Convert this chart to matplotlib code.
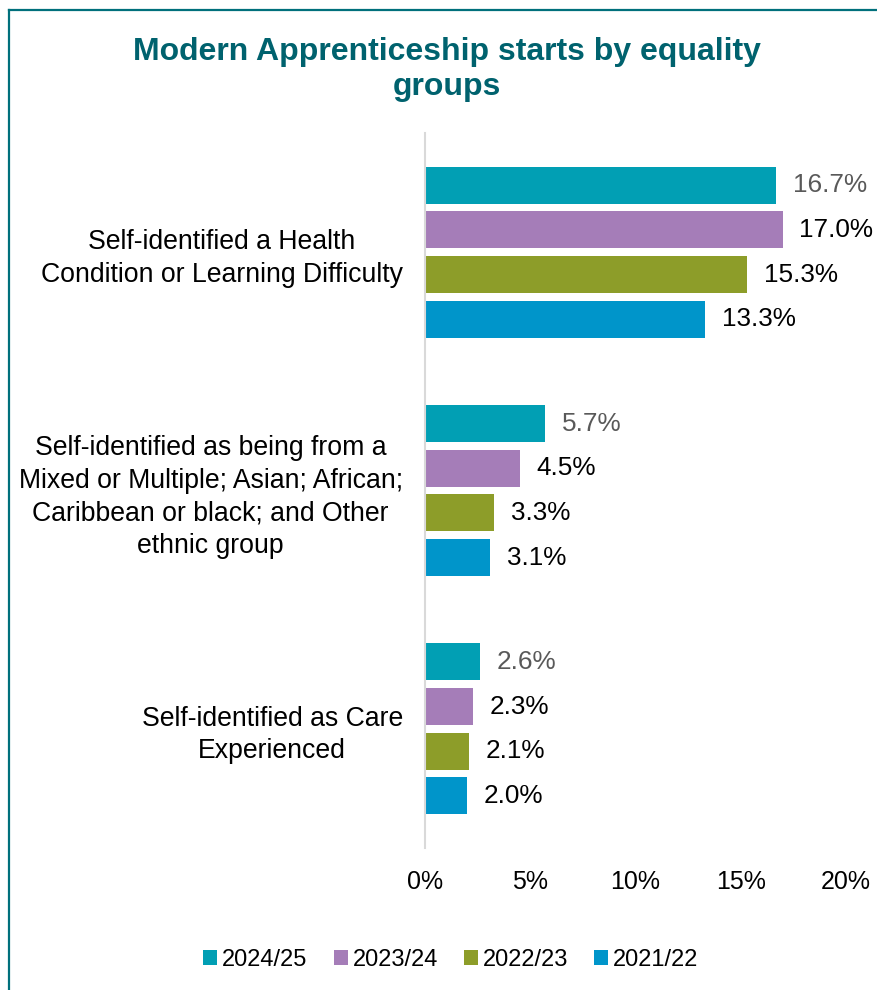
import matplotlib.pyplot as plt
from matplotlib.lines import Line2D
import numpy as np

plt.rcParams['font.family'] = ['Liberation Sans', 'DejaVu Sans']

categories = [
    "Self-identified a Health\nCondition or Learning Difficulty",
    "Self-identified as being from a\nMixed or Multiple; Asian; African;\nCaribbean or black; and Other\nethnic group",
    "Self-identified as Care\nExperienced",
]
years = ["2024/25", "2023/24", "2022/23", "2021/22"]
values = {
    "2024/25": [16.7, 5.7, 2.6],
    "2023/24": [17.0, 4.5, 2.3],
    "2022/23": [15.3, 3.3, 2.1],
    "2021/22": [13.3, 3.1, 2.0],
}
colors = ["#019FB4", "#A57DB8", "#8D9D29", "#0095CA"]
label_colors = ["#595959", "#000000", "#000000", "#000000"]

fig = plt.figure(figsize=(8.77, 9.9), dpi=100)
ax = fig.add_axes([0.4846, 0.1434, 0.480, 0.7222])

y = np.arange(len(categories))
step = 0.1875
for i, yr in enumerate(years):
    pos = y + (i - 1.5) * step
    bars = ax.barh(pos, values[yr], height=0.155, color=colors[i], label=yr)
    for b, v in zip(bars, values[yr]):
        ax.annotate(f"{v:.1f}%", (v, b.get_y() + b.get_height() / 2),
                    xytext=(12, 0), textcoords="offset points",
                    va="center", ha="left", fontsize=18.8, color=label_colors[i])

ax.set_xlim(0, 20)
ax.set_ylim(2.5, -0.5)
ax.set_xticks([0, 5, 10, 15, 20])
ax.set_xticklabels(["0%", "5%", "10%", "15%", "20%"])
ax.set_yticks(y)
ax.set_yticklabels(categories, multialignment="center", linespacing=1.33)
ax.tick_params(axis="both", length=0)
ax.tick_params(axis="x", labelsize=18, pad=16)
ax.tick_params(axis="y", labelsize=19.2, pad=16)
for s in ["top", "right", "bottom"]:
    ax.spines[s].set_visible(False)
ax.spines["left"].set_color("#D9D9D9")
ax.spines["left"].set_linewidth(1.5)

fig.text(0.51, 0.930, "Modern Apprenticeship starts by equality\ngroups",
         ha="center", va="center", fontsize=23, fontweight="bold",
         color="#00626E", linespacing=1.22)

fig.legend(loc="center", bbox_to_anchor=(0.514, 0.0303), ncol=4, frameon=False,
           fontsize=17, handlelength=0.6, handleheight=0.6,
           handletextpad=0.2, columnspacing=1.1)

# frame around the chart area
fig.add_artist(Line2D([8.5 / 877, 8.5 / 877], [0, 1 - 10 / 990],
                      transform=fig.transFigure, color="#00707C", lw=1.6))
fig.add_artist(Line2D([8.5 / 877, 1], [1 - 10 / 990, 1 - 10 / 990],
                      transform=fig.transFigure, color="#00707C", lw=1.6))

fig.savefig("out.png", dpi=100)
